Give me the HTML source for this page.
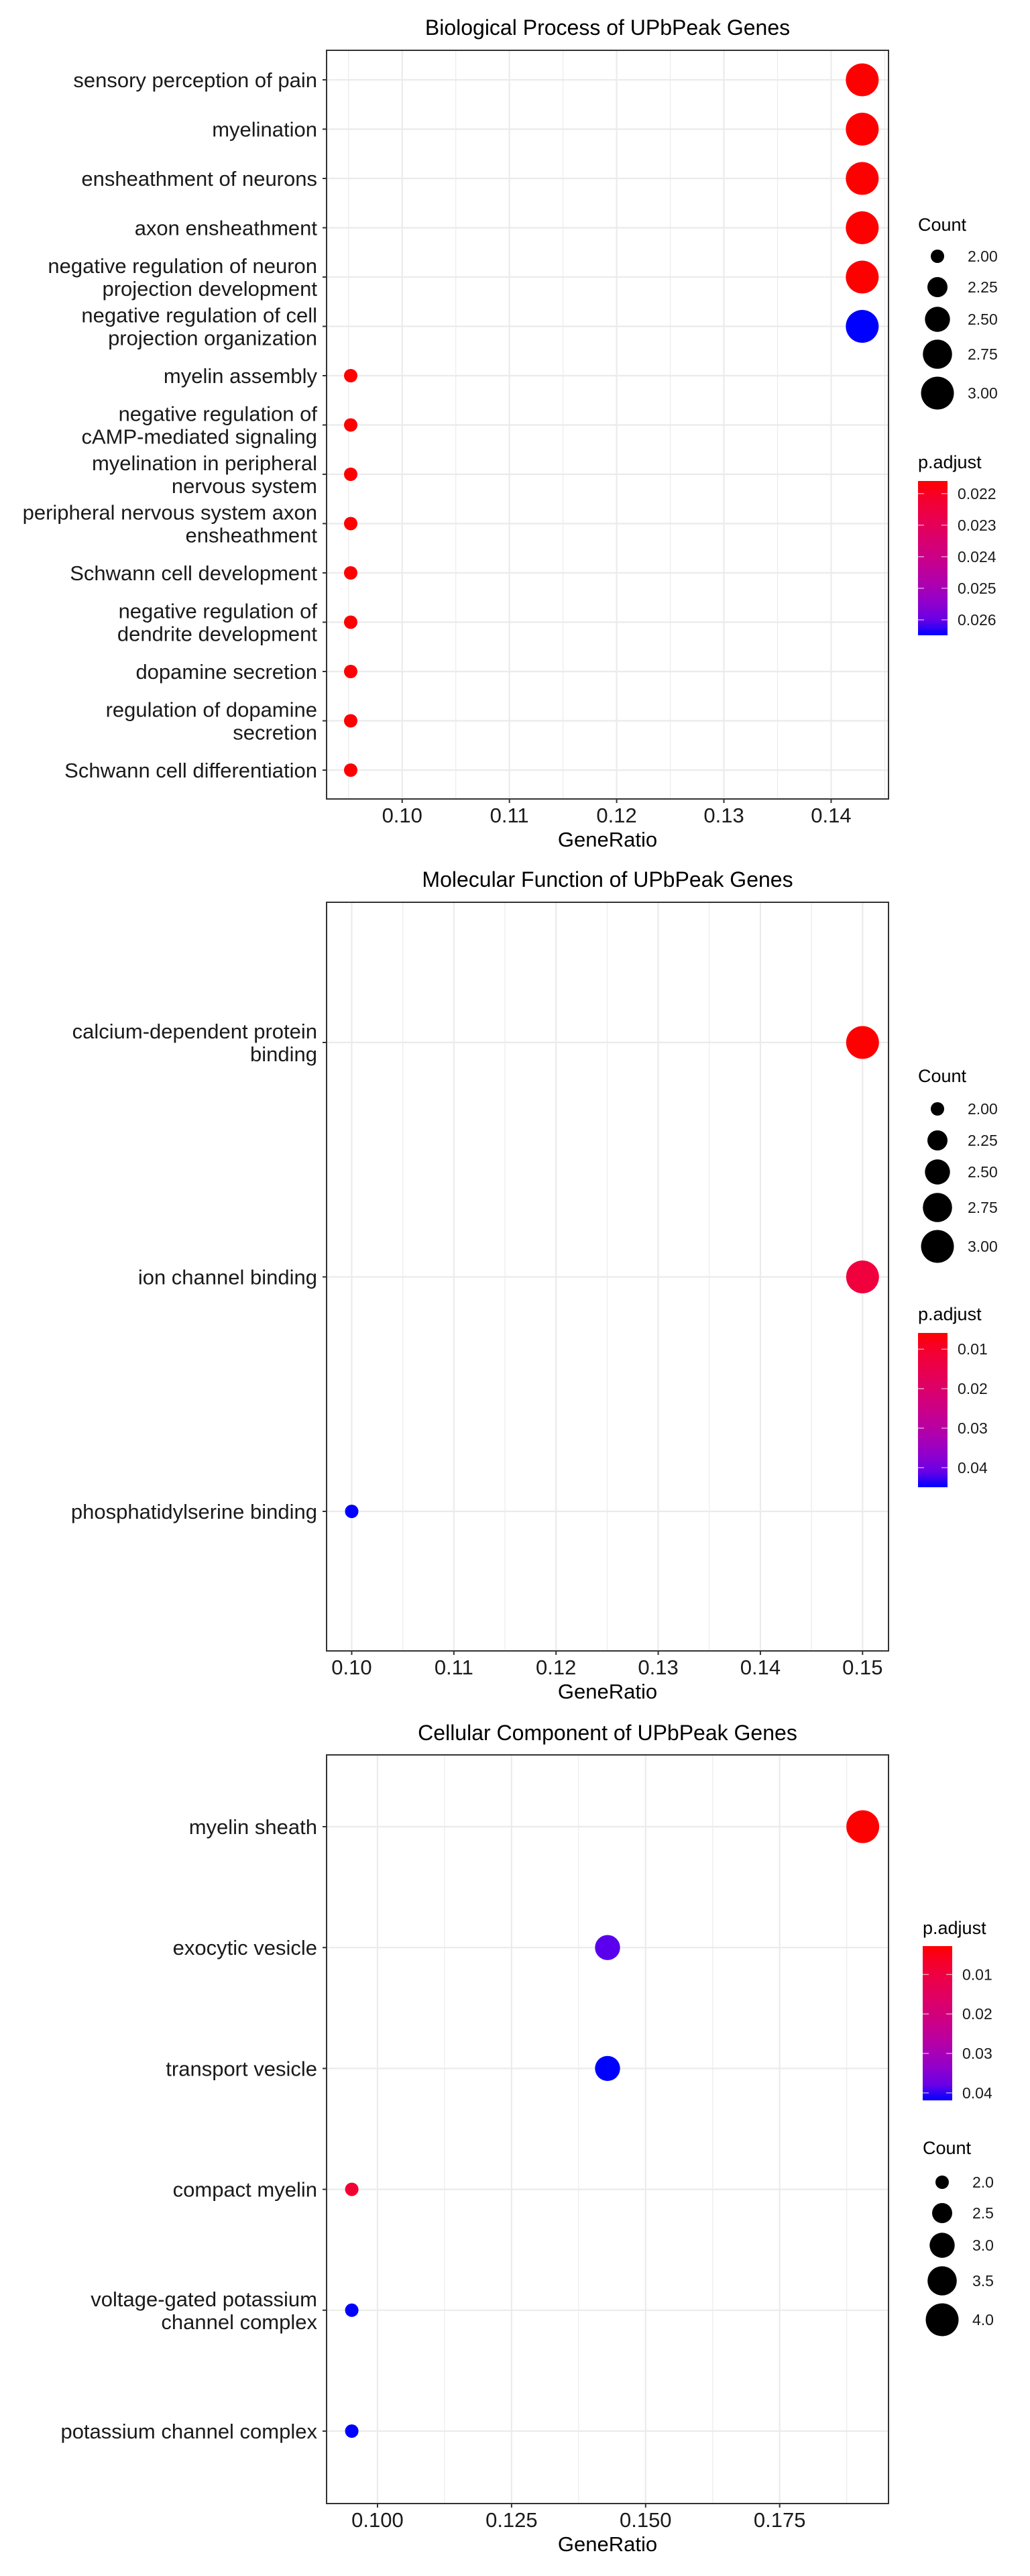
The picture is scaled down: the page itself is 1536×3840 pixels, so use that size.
<!DOCTYPE html>
<html><head><meta charset="utf-8">
<style>
html,body{margin:0;padding:0;background:#fff;}
svg{display:block;font-family:"Liberation Sans",sans-serif;}
</style></head>
<body>
<svg id="chart" width="1536" height="3840" viewBox="0 0 1536 3840" xmlns="http://www.w3.org/2000/svg"></svg>
<script>
// ---- Panel 1: Biological Process ----
const bpTerms = [["sensory perception of pain"],["myelination"],["ensheathment of neurons"],["axon ensheathment"],["negative regulation of neuron","projection development"],["negative regulation of cell","projection organization"],["myelin assembly"],["negative regulation of","cAMP-mediated signaling"],["myelination in peripheral","nervous system"],["peripheral nervous system axon","ensheathment"],["Schwann cell development"],["negative regulation of","dendrite development"],["dopamine secretion"],["regulation of dopamine","secretion"],["Schwann cell differentiation"]];
const bpRatio = [0.1429,0.1429,0.1429,0.1429,0.1429,0.1429,0.0952,0.0952,0.0952,0.0952,0.0952,0.0952,0.0952,0.0952,0.0952];
const bpCount = [3,3,3,3,3,3,2,2,2,2,2,2,2,2,2];
const bpPadj = [0.0216,0.0216,0.0216,0.0216,0.0216,0.0265,0.0216,0.0216,0.0216,0.0216,0.0216,0.0216,0.0216,0.0216,0.0216];
const bpXTicks = [0.10,0.11,0.12,0.13,0.14];
const bpXLabels = ["0.10","0.11","0.12","0.13","0.14"];
const bpSizeBreaks = [2.00,2.25,2.50,2.75,3.00];
const bpSizeLabels = ["2.00","2.25","2.50","2.75","3.00"];
const bpColorBreaks = [0.022,0.023,0.024,0.025,0.026];
const bpColorLabels = ["0.022","0.023","0.024","0.025","0.026"];

// ---- Panel 2: Molecular Function ----
const mfTerms = [["calcium-dependent protein","binding"],["ion channel binding"],["phosphatidylserine binding"]];
const mfRatio = [0.15,0.15,0.10];
const mfCount = [3,3,2];
const mfPadj = [0.0059,0.0125,0.0450];
const mfXTicks = [0.10,0.11,0.12,0.13,0.14,0.15];
const mfXLabels = ["0.10","0.11","0.12","0.13","0.14","0.15"];
const mfSizeBreaks = [2.00,2.25,2.50,2.75,3.00];
const mfSizeLabels = ["2.00","2.25","2.50","2.75","3.00"];
const mfColorBreaks = [0.01,0.02,0.03,0.04];
const mfColorLabels = ["0.01","0.02","0.03","0.04"];

// ---- Panel 3: Cellular Component ----
const ccTerms = [["myelin sheath"],["exocytic vesicle"],["transport vesicle"],["compact myelin"],["voltage-gated potassium","channel complex"],["potassium channel complex"]];
const ccRatio = [0.1905,0.1429,0.1429,0.0952,0.0952,0.0952];
const ccCount = [4,3,3,2,2,2];
const ccPadj = [0.0028,0.0390,0.0419,0.0080,0.0419,0.0419];
const ccXTicks = [0.100,0.125,0.150,0.175];
const ccXLabels = ["0.100","0.125","0.150","0.175"];
const ccSizeBreaks = [2.0,2.5,3.0,3.5,4.0];
const ccSizeLabels = ["2.0","2.5","3.0","3.5","4.0"];
const ccColorBreaks = [0.01,0.02,0.03,0.04];
const ccColorLabels = ["0.01","0.02","0.03","0.04"];

const NS = "http://www.w3.org/2000/svg";
const svg = document.getElementById('chart');
function mk(tag, attrs, parent){
  const e = document.createElementNS(NS, tag);
  for (const k in attrs) e.setAttribute(k, attrs[k]);
  (parent||svg).appendChild(e);
  return e;
}
function s2l(c){c/=255;return c<=0.04045?c/12.92:Math.pow((c+0.055)/1.055,2.4);}
function l2s(c){c=c<=0.0031308?12.92*c:1.055*Math.pow(c,1/2.4)-0.055;return Math.max(0,Math.min(255,Math.round(c*255)));}
function toLab(rgb){const r=s2l(rgb[0]),g=s2l(rgb[1]),b=s2l(rgb[2]);
  let X=(0.4124*r+0.3576*g+0.1805*b)/0.95047,Y=0.2126*r+0.7152*g+0.0722*b,Z=(0.0193*r+0.1192*g+0.9505*b)/1.08883;
  const f=t=>t>0.008856?Math.cbrt(t):7.787*t+16/116;X=f(X);Y=f(Y);Z=f(Z);
  return [116*Y-16,500*(X-Y),200*(Y-Z)];}
function fromLab(L){let Y=(L[0]+16)/116,X=L[1]/500+Y,Z=Y-L[2]/200;
  const f=t=>t*t*t>0.008856?t*t*t:(t-16/116)/7.787;X=f(X)*0.95047;Y=f(Y);Z=f(Z)*1.08883;
  const r=3.2406*X-1.5372*Y-0.4986*Z,g=-0.9689*X+1.8758*Y+0.0415*Z,b=0.0557*X-0.2040*Y+1.0570*Z;
  return 'rgb('+l2s(r)+','+l2s(g)+','+l2s(b)+')';}
const LR=toLab([255,0,0]), LB=toLab([0,0,255]);
function grad(t){t=Math.max(0,Math.min(1,t));return fromLab([LR[0]+(LB[0]-LR[0])*t,LR[1]+(LB[1]-LR[1])*t,LR[2]+(LB[2]-LR[2])*t]);}
let gid=0;

function panel(cfg){
  const g = mk('g',{});
  
  
  const {L,R,T,B} = cfg;
  const xs = v => L + (v - cfg.xmin)/(cfg.xmax - cfg.xmin)*(R-L);
  const n = cfg.terms.length;
  const ys = i => cfg.y0 + i*(cfg.y1-cfg.y0)/(n-1);
  const cmin = Math.min(...cfg.count), cmax = Math.max(...cfg.count);
  const dmin=20, dmax=49;
  const rad = c => Math.sqrt(dmin*dmin + (dmax*dmax-dmin*dmin)*(c-cmin)/((cmax-cmin)||1))/2;
  const col = p => grad((p-cfg.pmin)/(cfg.pmax-cfg.pmin));
  const t = mk('text',{x:(L+R)/2,y:cfg.titleY,'text-anchor':'middle','font-size':32,fill:'#000'},g);
  t.textContent = cfg.title;
  
  
  mk('rect',{x:L,y:T,width:R-L,height:B-T,fill:'#fff'},g);
  const step = cfg.xticks[1]-cfg.xticks[0];
  for (let v = cfg.xticks[0]-step/2; v < cfg.xmax; v += step){
    if (v > cfg.xmin) { const ln = mk('line',{x1:xs(v),x2:xs(v),y1:T,y2:B,stroke:'#ebebeb','stroke-width':1.2},g);
        }
  }
  cfg.xticks.forEach((v,i)=>{
    const ln = mk('line',{x1:xs(v),x2:xs(v),y1:T,y2:B,stroke:'#ebebeb','stroke-width':2.2},g);
     
    mk('line',{x1:xs(v),x2:xs(v),y1:B,y2:B+6,stroke:'#333','stroke-width':2},g);
    const tx = mk('text',{x:xs(v),y:B+35,'text-anchor':'middle','font-size':31,fill:'#1a1a1a'},g);
    tx.textContent = cfg.xlabels[i];
     
  });
  cfg.terms.forEach((lines,i)=>{
    const y = ys(i);
    const ln = mk('line',{x1:L,x2:R,y1:y,y2:y,stroke:'#ebebeb','stroke-width':2.2},g);
     
    mk('line',{x1:L-6,x2:L,y1:y,y2:y,stroke:'#333','stroke-width':2},g);
    lines.forEach((s,j)=>{
      const off = (j - (lines.length-1)/2)*34;
      const tx = mk('text',{x:L-14,y:y+off+11,'text-anchor':'end','font-size':31,fill:'#1a1a1a'},g);
      tx.textContent = s;
       
    });
  });
  cfg.terms.forEach((lines,i)=>{
    const c = mk('circle',{cx:xs(cfg.ratio[i]),cy:ys(i),r:rad(cfg.count[i]),fill:col(cfg.padj[i])},g);
    
    
  });
  mk('rect',{x:L,y:T,width:R-L,height:B-T,fill:'none',stroke:'#333','stroke-width':2},g);
  const xt = mk('text',{x:(L+R)/2,y:B+71,'text-anchor':'middle','font-size':31,fill:'#000'},g);
  xt.textContent = 'GeneRatio';
   

  const sl = mk('g',{},g);
   
  const st = mk('text',{x:cfg.lx,y:cfg.countTitleY,'font-size':27,fill:'#000'},sl);
  st.textContent='Count';
   
  cfg.sizeBreaks.forEach((v,i)=>{
    const cy = cfg.sizeY[i];
    const c = mk('circle',{cx:cfg.lx+29,cy:cy,r:rad(v),fill:'#000'},sl);
     
    const tx = mk('text',{x:cfg.lx+74,y:cy+8,'font-size':23,fill:'#1a1a1a'},sl);
    tx.textContent = cfg.sizeLabels[i];
     
  });
  const cl = mk('g',{},g);
   
  const ct = mk('text',{x:cfg.lx,y:cfg.colTitleY,'font-size':27,fill:'#000'},cl);
  ct.textContent='p.adjust';
   
  const id='gr'+(gid++);
  const defs = mk('defs',{},cl);
  const lg = mk('linearGradient',{id:id,x1:0,y1:0,x2:0,y2:1},defs);
  for (let k=0;k<=10;k++) mk('stop',{offset:k/10,'stop-color':grad(k/10)},lg);
  const bw=44, bt=cfg.barT, bb=cfg.barB;
  const bar = mk('rect',{x:cfg.lx,y:bt,width:bw,height:bb-bt,fill:'url(#'+id+')'},cl);
   
  const by = p => bt + (p-cfg.pmin)/(cfg.pmax-cfg.pmin)*(bb-bt);
  cfg.colorBreaks.forEach((v,i)=>{
    const y = by(v);
    mk('line',{x1:cfg.lx,x2:cfg.lx+9,y1:y,y2:y,stroke:'#fff','stroke-opacity':0.6,'stroke-width':1.5},cl);
    mk('line',{x1:cfg.lx+bw-9,x2:cfg.lx+bw,y1:y,y2:y,stroke:'#fff','stroke-opacity':0.6,'stroke-width':1.5},cl);
    const tx = mk('text',{x:cfg.lx+bw+15,y:y+8,'font-size':23,fill:'#1a1a1a'},cl);
    tx.textContent = cfg.colorLabels[i];
     
  });
}

panel({name:'biological-process-panel',title:'Biological Process of UPbPeak Genes',titleY:52,
  L:487,R:1325,T:75,B:1191,xmin:0.09295,xmax:0.14535,y0:119,y1:1148,
  terms:bpTerms,ratio:bpRatio,count:bpCount,padj:bpPadj,xticks:bpXTicks,xlabels:bpXLabels,
  pmin:0.0216,pmax:0.02649,lx:1369,countTitleY:344,sizeY:[382,428,476,528,586],
  sizeBreaks:bpSizeBreaks,sizeLabels:bpSizeLabels,colTitleY:698,barT:717,barB:947,
  colorBreaks:bpColorBreaks,colorLabels:bpColorLabels});

panel({name:'molecular-function-panel',title:'Molecular Function of UPbPeak Genes',titleY:1322,
  L:487,R:1325,T:1345,B:2461,xmin:0.09754,xmax:0.15254,y0:1554,y1:2253,
  terms:mfTerms,ratio:mfRatio,count:mfCount,padj:mfPadj,xticks:mfXTicks,xlabels:mfXLabels,
  pmin:0.00588,pmax:0.04497,lx:1369,countTitleY:1613,sizeY:[1653,1700,1747,1800,1858],
  sizeBreaks:mfSizeBreaks,sizeLabels:mfSizeLabels,colTitleY:1968,barT:1987,barB:2217,
  colorBreaks:mfColorBreaks,colorLabels:mfColorLabels});

panel({name:'cellular-component-panel',title:'Cellular Component of UPbPeak Genes',titleY:2594,
  L:487,R:1325,T:2616,B:3732,xmin:0.0905,xmax:0.1953,y0:2723,y1:3624,
  terms:ccTerms,ratio:ccRatio,count:ccCount,padj:ccPadj,xticks:ccXTicks,xlabels:ccXLabels,
  pmin:0.0028,pmax:0.0419,lx:1376,countTitleY:3211,sizeY:[3253,3299,3347,3400,3458],
  sizeBreaks:ccSizeBreaks,sizeLabels:ccSizeLabels,colTitleY:2883,barT:2901,barB:3131,
  colorBreaks:ccColorBreaks,colorLabels:ccColorLabels});
</script>
</body></html>
